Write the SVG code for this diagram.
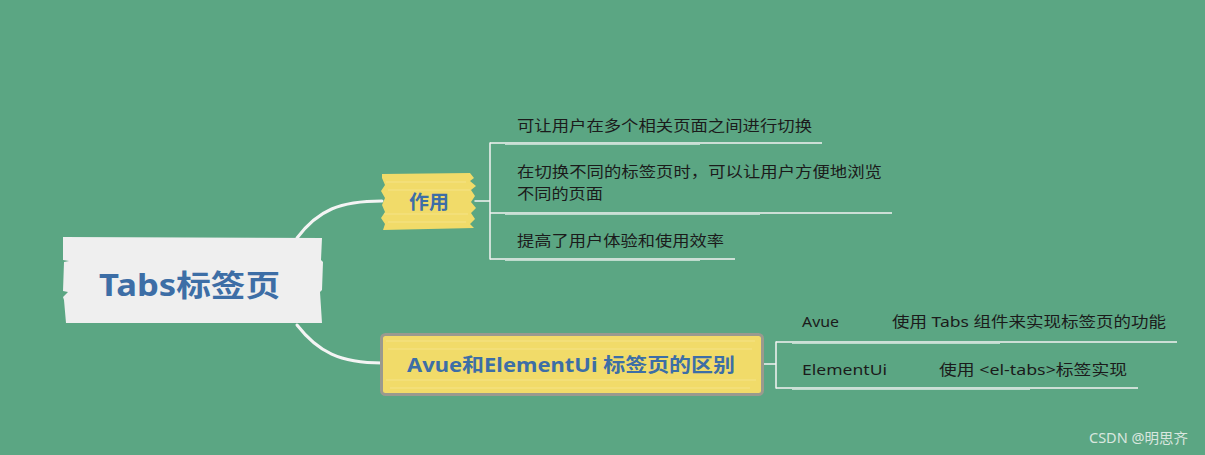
<svg xmlns="http://www.w3.org/2000/svg" width="1205" height="455" viewBox="0 0 1205 455">
<style>
.leaf{font-family:"Noto Sans","Noto Sans CJK SC",sans-serif;font-size:15px;fill:#1b1b1b;}
.title{font-family:"Noto Sans","Noto Sans CJK SC",sans-serif;font-weight:bold;fill:#3d6ea6;}
.conn{fill:none;stroke:#f4f4f4;stroke-linecap:round;}
.ul{fill:none;stroke:#f2f2f2;stroke-width:1.6;}
.ul2{fill:none;stroke:#ffffff;stroke-width:1;opacity:0.6;}
.yellow{fill:#f1db69;}
.streak{stroke:#f7e68f;stroke-width:1.2;opacity:0.8;}
</style>
<rect width="1205" height="455" fill="#5ba683"/>

<g id="connectors">
  <path class="conn" stroke-width="3" d="M297,238 C318,210 340,201 382,201"/>
  <path class="conn" stroke-width="3" d="M297,325 C318,352 340,363 382,363"/>
  <path class="conn" stroke-width="1.5" d="M475,201 H490 M490,143 V259"/>
  <path class="ul" d="M490,143 H822"/>
  <path class="ul2" d="M505,144.5 H700"/>
  <path class="ul" d="M490,213 H892"/>
  <path class="ul2" d="M505,214.5 H760"/>
  <path class="ul" d="M490,259 H735"/>
  <path class="ul2" d="M505,260.5 H700"/>
  <path class="conn" stroke-width="1.5" d="M763,364 H776 M776,342 V388"/>
  <path class="ul" d="M776,342 H1177"/>
  <path class="ul2" d="M792,343.5 H1000"/>
  <path class="ul" d="M776,388 H1138"/>
  <path class="ul2" d="M792,389.5 H1030"/>
</g>

<g id="node-root">
  <polygon fill="#efefef" points="63,237 322,238 321,260 323,262 322,290 320,292 322,323 66,323 64,300 63,297 68,292 63,291 64,262 69,261 63,260"/>
  <text class="title" x="99" y="296" font-size="30" textLength="181" lengthAdjust="spacingAndGlyphs">Tabs标签页</text>
</g>

<g id="node-zuoyong">
  <path class="yellow" d="M382,174 L470,173 L474,178 L470,181 L476,186 L471,190 L475,196 L471,202 L476,208 L471,213 L475,219 L470,224 L474,228 L383,230 L385,224 L381,218 L385,212 L382,205 L385,198 L381,191 L385,185 L382,178 Z"/>
  <path class="streak" d="M386,182 H466 M388,190 H470 M384,214 H468 M388,222 H466"/>
  <text class="title" x="409" y="209" font-size="19" textLength="40" lengthAdjust="spacingAndGlyphs">作用</text>
</g>

<g id="node-diff">
  <rect x="381.5" y="334.5" width="381" height="60" rx="4" fill="#f1db69" stroke="#9a9a8e" stroke-width="3"/>
  <path class="streak" d="M386,341 H755 M388,349 H752 M386,380 H756 M390,388 H750"/>
  <text class="title" x="407" y="372" font-size="19" textLength="328" lengthAdjust="spacingAndGlyphs">Avue和ElementUi 标签页的区别</text>
</g>

<g id="leaf-1">
  <text class="leaf" x="517" y="131" textLength="295" lengthAdjust="spacingAndGlyphs">可让用户在多个相关页面之间进行切换</text>
</g>
<g id="leaf-2">
  <text class="leaf" x="517" y="177" textLength="365" lengthAdjust="spacingAndGlyphs">在切换不同的标签页时，可以让用户方便地浏览</text>
  <text class="leaf" x="517" y="199" textLength="86" lengthAdjust="spacingAndGlyphs">不同的页面</text>
</g>
<g id="leaf-3">
  <text class="leaf" x="517" y="246" textLength="207" lengthAdjust="spacingAndGlyphs">提高了用户体验和使用效率</text>
</g>
<g id="leaf-avue">
  <text class="leaf" x="802" y="327" textLength="37" lengthAdjust="spacingAndGlyphs">Avue</text>
  <text class="leaf" x="892" y="327" textLength="274" lengthAdjust="spacingAndGlyphs">使用 Tabs 组件来实现标签页的功能</text>
</g>
<g id="leaf-element">
  <text class="leaf" x="802" y="375" textLength="85" lengthAdjust="spacingAndGlyphs">ElementUi</text>
  <text class="leaf" x="939" y="375" textLength="188" lengthAdjust="spacingAndGlyphs">使用 &lt;el-tabs&gt;标签实现</text>
</g>

<text x="1089" y="443" font-family="'Noto Sans','Noto Sans CJK SC',sans-serif" font-size="14" fill="#e6efe9" opacity="0.9" textLength="99" lengthAdjust="spacingAndGlyphs">CSDN @明思齐</text>
</svg>
